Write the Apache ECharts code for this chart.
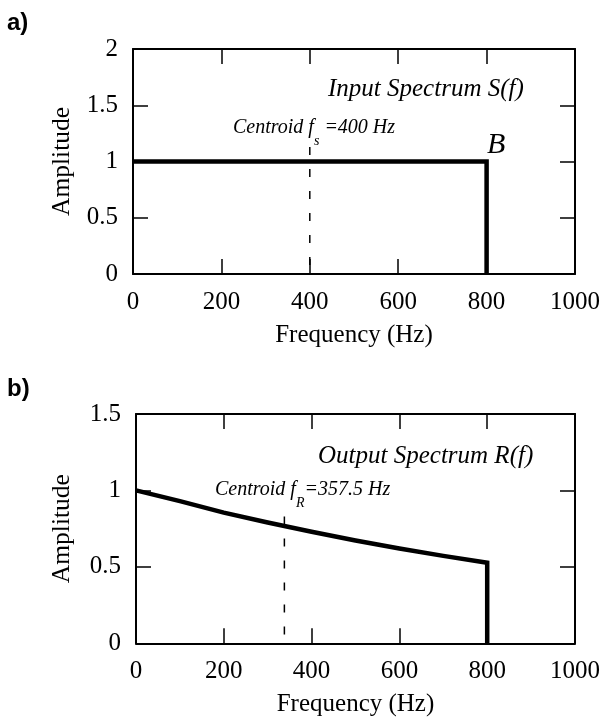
<!DOCTYPE html>
<html>
<head>
<meta charset="utf-8">
<script src="https://cdn.jsdelivr.net/npm/echarts@6/dist/echarts.min.js"></script>
<style>
html,body{margin:0;padding:0;background:#fff;}
#c{width:603px;height:721px;}
</style>
</head>
<body>
<div id="c"></div>
<script>
// ---- data ----
const xTicks = [0, 200, 400, 600, 800, 1000];
const yTicksA = [0, 0.5, 1, 1.5, 2];
const yTicksB = [0, 0.5, 1, 1.5];
const inputFreq = [0, 800, 800];
const inputAmp = [1, 1, 0];
const outputFreq = [0, 100, 200, 300, 400, 500, 600, 700, 800, 800];
const outputAmp = [1.0, 0.93, 0.855, 0.79, 0.73, 0.672, 0.62, 0.572, 0.527, 0];
const centroidAFreq = [400, 400];
const centroidAAmp = [1.13, 0];
const centroidBFreq = [338, 338];
const centroidBAmp = [0.83, 0];

const serif = '"Liberation Serif","Times New Roman",serif';
const sans = '"Liberation Sans",Arial,sans-serif';
const zip = (a, b) => a.map((v, i) => [v, b[i]]);

function xAxes(gi) {
  const common = {
    type: 'value', gridIndex: gi, min: xTicks[0], max: xTicks[xTicks.length - 1],
    interval: xTicks[1] - xTicks[0],
    axisLine: { show: true, onZero: false, lineStyle: { color: '#000', width: 2 } },
    axisTick: { show: true, inside: true, length: 15, lineStyle: { color: '#000', width: 1.5 } },
    splitLine: { show: false }
  };
  return [
    Object.assign({}, common, {
      position: 'bottom',
      axisLabel: { show: true, margin: 16, color: '#000', fontFamily: serif, fontSize: 25,
        formatter: v => String(v) },
      name: 'Frequency (Hz)', nameLocation: 'middle', nameGap: 49,
      nameTextStyle: { color: '#000', fontFamily: serif, fontSize: 25 }
    }),
    Object.assign({}, common, { position: 'top', axisLabel: { show: false } })
  ];
}
function yAxes(gi, ticks, gap) {
  const common = {
    type: 'value', gridIndex: gi, min: ticks[0], max: ticks[ticks.length - 1],
    interval: ticks[1] - ticks[0],
    axisLine: { show: true, onZero: false, lineStyle: { color: '#000', width: 2 } },
    axisTick: { show: true, inside: true, length: 15, lineStyle: { color: '#000', width: 1.5 } },
    splitLine: { show: false }
  };
  return [
    Object.assign({}, common, {
      position: 'left',
      axisLabel: { show: true, margin: 15, color: '#000', fontFamily: serif, fontSize: 25,
        formatter: v => String(v) },
      name: 'Amplitude', nameLocation: 'middle', nameGap: gap,
      nameTextStyle: { color: '#000', fontFamily: serif, fontSize: 25.5 }
    }),
    Object.assign({}, common, { position: 'right', axisLabel: { show: false } })
  ];
}

const thick = { color: '#000', width: 4.5, join: 'miter', cap: 'butt' };
const dashed = { color: '#000', width: 1.5, type: [8, 14] };

const centroidRich = {
  m: { fontFamily: serif, fontStyle: 'italic', fontSize: 20, fill: '#000' },
  s: { fontFamily: serif, fontStyle: 'italic', fontSize: 14, fill: '#000', padding: [26, 0, 0, 0] }
};

const option = {
  animation: false,
  backgroundColor: '#fff',
  grid: [
    { left: 133, top: 49, right: 24.5, height: 225 },
    { left: 136, top: 414, right: 20.5, height: 229.3 }
  ],
  xAxis: [...xAxes(0), ...xAxes(1)],
  yAxis: [...yAxes(0, yTicksA, 58), ...yAxes(1, yTicksB, 61)],
  series: [
    { type: 'line', xAxisIndex: 0, yAxisIndex: 0, data: zip(centroidAFreq, centroidAAmp),
      showSymbol: false, clip: false, lineStyle: dashed },
    { type: 'line', xAxisIndex: 0, yAxisIndex: 0, data: zip(inputFreq, inputAmp),
      showSymbol: false, clip: false, lineStyle: thick },
    { type: 'line', xAxisIndex: 2, yAxisIndex: 2, data: zip(centroidBFreq, centroidBAmp),
      showSymbol: false, clip: false, lineStyle: dashed },
    { type: 'line', xAxisIndex: 2, yAxisIndex: 2, data: zip(outputFreq, outputAmp),
      showSymbol: false, clip: false, lineStyle: thick }
  ],
  graphic: [
    { type: 'text', x: 7, y: 23, style: { text: 'a)', font: 'bold 24px ' + sans, fill: '#000', align: 'left', verticalAlign: 'middle' } },
    { type: 'text', x: 7, y: 389, style: { text: 'b)', font: 'bold 24px ' + sans, fill: '#000', align: 'left', verticalAlign: 'middle' } },
    { type: 'text', x: 328, y: 89, style: { text: 'Input Spectrum S(f)', font: 'italic 25px ' + serif, fill: '#000', align: 'left', verticalAlign: 'middle' } },
    { type: 'text', x: 487, y: 145, style: { text: 'B', font: 'italic 30px ' + serif, fill: '#000', align: 'left', verticalAlign: 'middle' } },
    { type: 'text', x: 233, y: 128, style: { text: '{m|Centroid f}{s|s}{m| =400 Hz}', rich: centroidRich, align: 'left', verticalAlign: 'middle' } },
    { type: 'text', x: 318, y: 456, style: { text: 'Output Spectrum R(f)', font: 'italic 25px ' + serif, fill: '#000', align: 'left', verticalAlign: 'middle' } },
    { type: 'text', x: 215, y: 490, style: { text: '{m|Centroid f}{s|R}{m|=357.5 Hz}', rich: centroidRich, align: 'left', verticalAlign: 'middle' } }
  ]
};

const chart = echarts.init(document.getElementById('c'), null, { renderer: 'canvas' });
chart.setOption(option);
</script>
</body>
</html>
